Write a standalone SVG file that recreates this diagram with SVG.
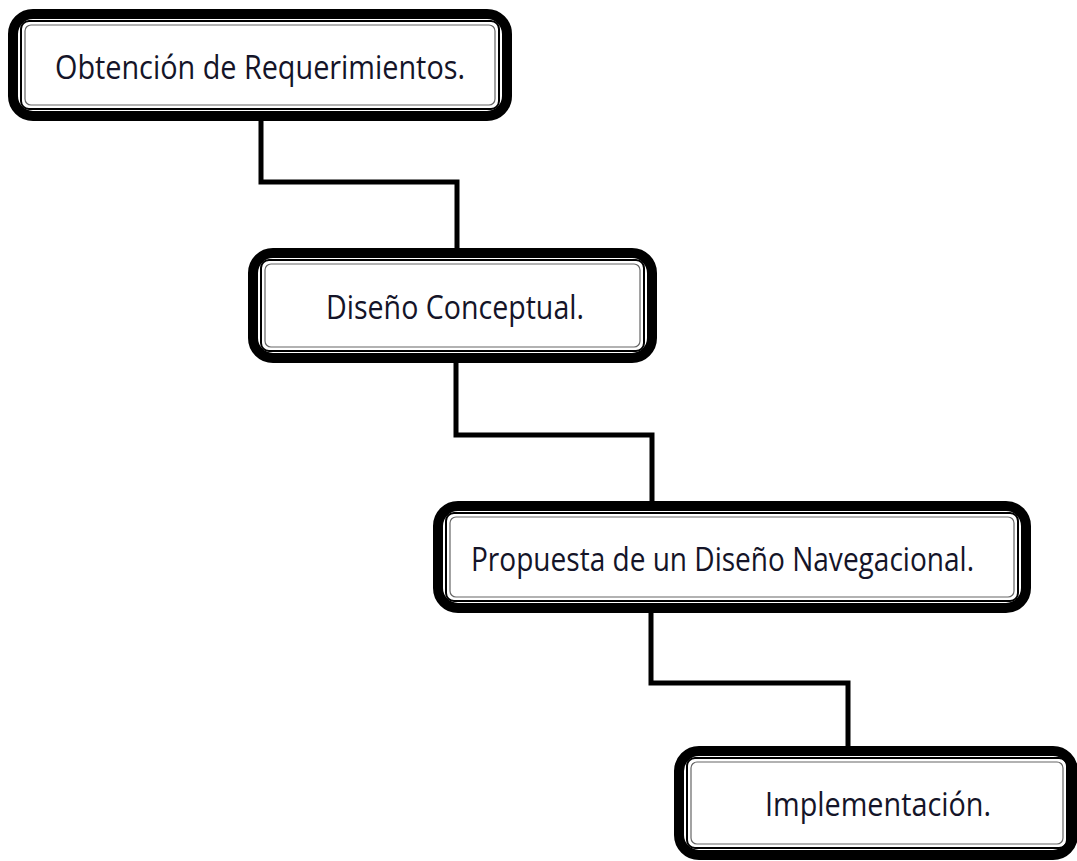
<svg xmlns="http://www.w3.org/2000/svg" width="1077" height="861" viewBox="0 0 1077 861">
<style>
.outer{fill:#fff;stroke:#000;stroke-width:10}
.in1{fill:none;stroke:#000;stroke-width:2}
.in2{fill:none;stroke:#666;stroke-width:1.2}
.lbl{font-family:"Open Sans","Noto Sans","Liberation Sans",sans-serif;font-size:32px;fill:#141428}
.conn{fill:none;stroke:#000;stroke-width:5}
</style>
<rect width="1077" height="861" fill="#fff"/>
<g id="connectors">
<path class="conn" d="M261 118 V182 H457 V250"/>
<path class="conn" d="M456 362 V435 H652 V503"/>
<path class="conn" d="M651 612 V683 H848 V748"/>
</g>
<g id="node1">
<rect class="outer" x="13" y="14" width="494" height="102" rx="20"/>
<rect class="in1" x="21" y="21" width="478" height="88" rx="8"/>
<rect class="in2" x="25" y="25" width="470" height="80" rx="6"/>
<text class="lbl" x="55" y="79" textLength="410" lengthAdjust="spacingAndGlyphs">Obtención de Requerimientos.</text>
</g>
<g id="node2">
<rect class="outer" x="253" y="253" width="399" height="105" rx="20"/>
<rect class="in1" x="261" y="260" width="383" height="91" rx="8"/>
<rect class="in2" x="265" y="264" width="375" height="83" rx="6"/>
<text class="lbl" x="326" y="319" textLength="258" lengthAdjust="spacingAndGlyphs">Diseño Conceptual.</text>
</g>
<g id="node3">
<rect class="outer" x="438" y="506" width="588" height="102" rx="20"/>
<rect class="in1" x="446" y="513" width="572" height="88" rx="8"/>
<rect class="in2" x="450" y="517" width="564" height="80" rx="6"/>
<text class="lbl" x="471" y="571" textLength="503" lengthAdjust="spacingAndGlyphs">Propuesta de un Diseño Navegacional.</text>
</g>
<g id="node4">
<rect class="outer" x="679" y="751" width="394" height="104" rx="20"/>
<rect class="in1" x="687" y="758" width="380" height="90" rx="8"/>
<rect class="in2" x="691" y="762" width="372" height="82" rx="6"/>
<text class="lbl" x="765" y="816" textLength="226" lengthAdjust="spacingAndGlyphs">Implementación.</text>
</g>
</svg>
